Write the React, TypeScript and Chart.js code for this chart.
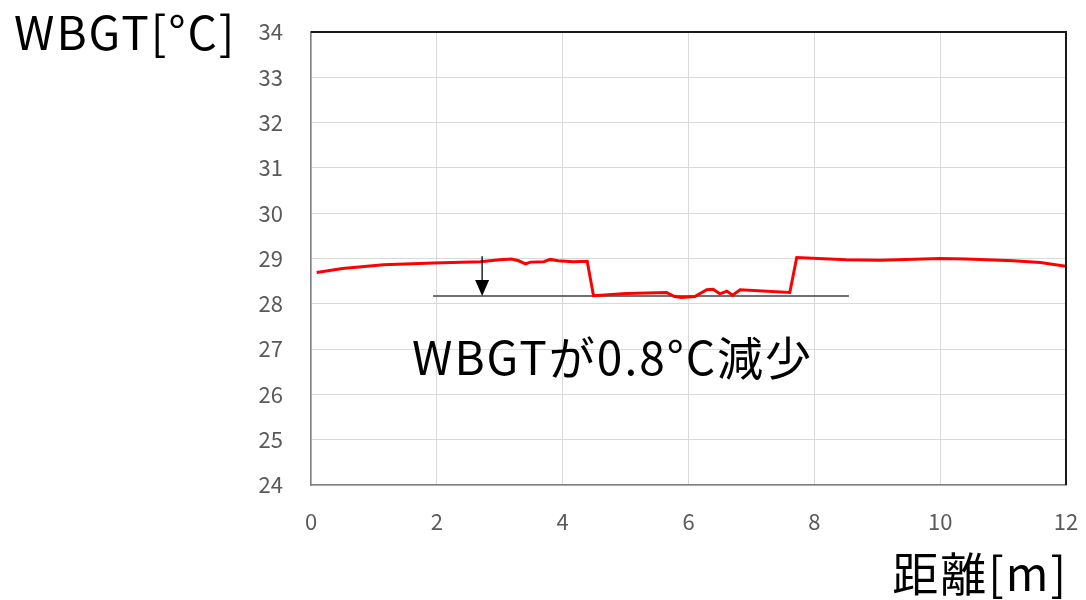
import React, { useEffect, useRef } from "react";
import { Chart, registerables } from "chart.js";

Chart.register(...registerables);

const distance = [0.09, 0.5, 1.15, 1.95, 2.69, 3.0, 3.19, 3.3, 3.41, 3.49, 3.7, 3.8, 3.93, 4.17, 4.39, 4.49, 5.01, 5.65, 5.78, 5.89, 6.1, 6.29, 6.39, 6.5, 6.61, 6.7, 6.82, 7.61, 7.72, 8.51, 9.04, 10.0, 10.42, 11.16, 11.59, 12.0];
const wbgt = [28.69, 28.78, 28.86, 28.9, 28.93, 28.97, 28.99, 28.95, 28.88, 28.92, 28.93, 28.98, 28.95, 28.93, 28.94, 28.18, 28.23, 28.25, 28.16, 28.14, 28.16, 28.31, 28.32, 28.22, 28.28, 28.19, 28.31, 28.25, 29.02, 28.97, 28.96, 29.0, 28.99, 28.95, 28.91, 28.83];

const refLineX = [1.94, 8.55];
const refLineY = [28.17, 28.17];

const arrowX = 2.72;
const arrowTop = 29.05;
const arrowTip = 28.17;

const xTicks = [0, 2, 4, 6, 8, 10, 12];
const yMin = 24;
const yMax = 34;

const yTitle = "WBGT[°C]";
const xTitle = "距離[m]";
const annotation = "WBGTが0.8°C減少";

const FONT = '"Noto Sans CJK JP", "Noto Sans", sans-serif';

const overlayPlugin = {
  id: "overlay",
  afterDatasetsDraw(chart: any) {
    const { ctx, chartArea, scales } = chart;
    const xs = scales.x;
    const ys = scales.y;
    ctx.save();
    ctx.strokeStyle = "#1a1a1a";
    ctx.lineWidth = 2;
    ctx.beginPath();
    ctx.moveTo(chartArea.left, chartArea.top);
    ctx.lineTo(chartArea.right, chartArea.top);
    ctx.lineTo(chartArea.right, chartArea.bottom);
    ctx.stroke();

    const ax = xs.getPixelForValue(arrowX);
    const aTop = ys.getPixelForValue(arrowTop);
    const aTip = ys.getPixelForValue(arrowTip);
    ctx.strokeStyle = "#000";
    ctx.lineWidth = 1.3;
    ctx.beginPath();
    ctx.moveTo(ax, aTop);
    ctx.lineTo(ax, aTip - 14);
    ctx.stroke();
    ctx.fillStyle = "#000";
    ctx.beginPath();
    ctx.moveTo(ax - 7, aTip - 16);
    ctx.lineTo(ax + 7, aTip - 16);
    ctx.lineTo(ax, aTip);
    ctx.closePath();
    ctx.fill();

    ctx.fillStyle = "#000";
    ctx.font = `46px ${FONT}`;
    (ctx as any).letterSpacing = "2px";
    ctx.textBaseline = "alphabetic";
    ctx.textAlign = "left";
    ctx.fillText(yTitle, 14, 50);
    ctx.fillText(annotation, 412, 375);
    ctx.textAlign = "right";
    ctx.fillText(xTitle, 1068, 591);
    ctx.restore();
  },
};

export default function App() {
  const ref = useRef<HTMLCanvasElement | null>(null);
  useEffect(() => {
    document.body.style.margin = "0";
    const canvas = ref.current!;
    const chart = new Chart(canvas, {
      type: "line",
      data: {
        datasets: [
          {
            label: "WBGT",
            data: distance.map((d, i) => ({ x: d, y: wbgt[i] })),
            borderColor: "#ff0000",
            borderWidth: 3,
            pointRadius: 0,
            tension: 0,
            fill: false,
          },
          {
            label: "ref",
            data: refLineX.map((d, i) => ({ x: d, y: refLineY[i] })),
            borderColor: "#404040",
            borderWidth: 1.5,
            pointRadius: 0,
            fill: false,
          },
        ],
      },
      options: {
        responsive: false,
        animation: false,
        layout: { padding: { top: 32, right: 20, left: 0, bottom: 0 } },
        plugins: { legend: { display: false }, tooltip: { enabled: false } },
        scales: {
          x: {
            type: "linear",
            min: 0,
            max: 12,
            afterBuildTicks: (s: any) => {
              s.ticks = xTicks.map((v) => ({ value: v }));
            },
            afterFit: (s: any) => {
              s.height = 115;
              s.paddingLeft = 0;
              s.paddingRight = 0;
            },
            grid: { color: "#d9d9d9", lineWidth: 1, drawTicks: false },
            border: { color: "#808080", width: 1.5 },
            ticks: {
              padding: 23,
              color: "#595959",
              font: { family: FONT, size: 22 },
              maxRotation: 0,
            },
          },
          y: {
            type: "linear",
            min: yMin,
            max: yMax,
            afterFit: (s: any) => {
              s.width = 311;
              s.paddingTop = 0;
              s.paddingBottom = 0;
            },
            grid: { color: "#d9d9d9", lineWidth: 1, drawTicks: false },
            border: { color: "#808080", width: 1.5 },
            ticks: {
              stepSize: 1,
              padding: 28,
              color: "#595959",
              font: { family: FONT, size: 22 },
            },
          },
        },
      },
      plugins: [overlayPlugin],
    } as any);
    return () => chart.destroy();
  }, []);
  return (
    <div style={{ position: "absolute", left: 0, top: 0, width: 1086, height: 600, background: "#fff" }}>
      <canvas ref={ref} width={1086} height={600} />
    </div>
  );
}
